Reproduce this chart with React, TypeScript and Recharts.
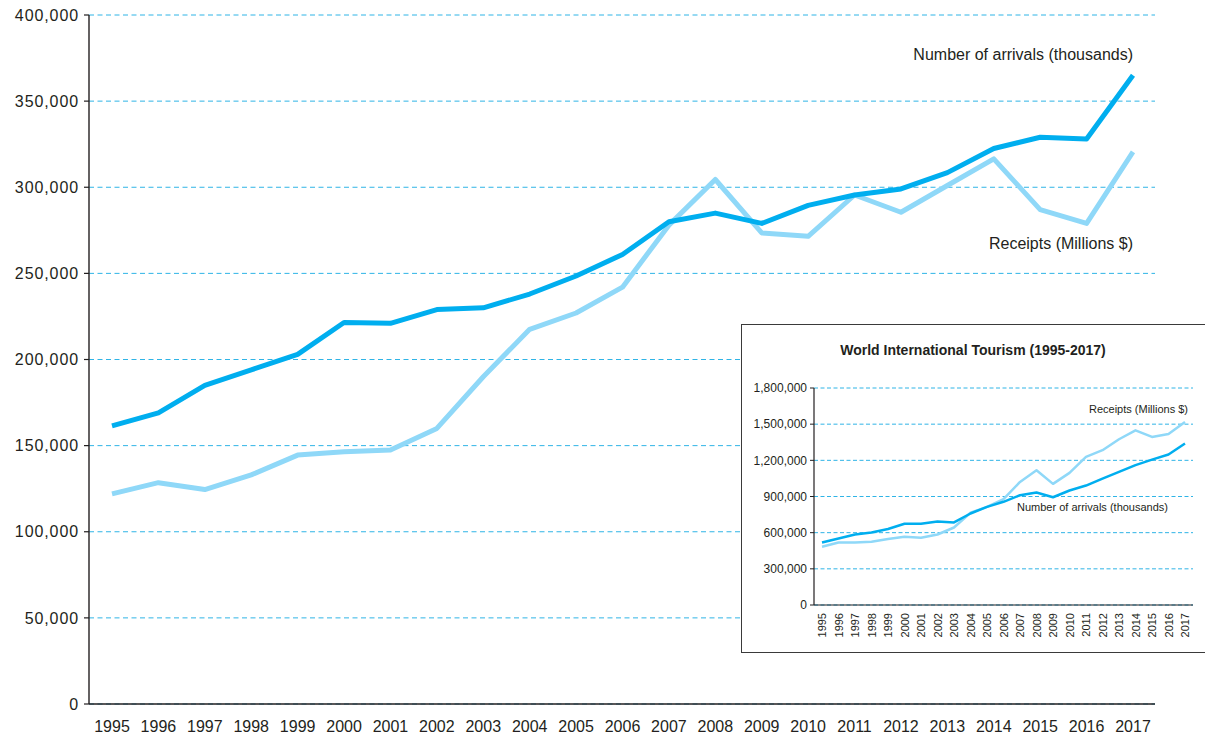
import React from "react";
import { LineChart, Line, XAxis, YAxis, CartesianGrid } from "recharts";

const years = ["1995","1996","1997","1998","1999","2000","2001","2002","2003","2004","2005","2006","2007","2008","2009","2010","2011","2012","2013","2014","2015","2016","2017"];

const arrivalsMain = [161500, 169000, 185000, 194000, 203000, 221500, 221000, 229000, 230000, 238000, 248500, 261000, 280000, 285000, 279000, 289500, 295500, 299000, 308500, 322500, 329000, 328000, 365000];
const receiptsMain = [122000, 128500, 124500, 133000, 144500, 146500, 147500, 160000, 190000, 217500, 227000, 242000, 278000, 304500, 273500, 271500, 295500, 285500, 301000, 316500, 287000, 279000, 320500];

const arrivalsInset = [519000, 552000, 585000, 602000, 630000, 674000, 674000, 693000, 685000, 759000, 814000, 856000, 911000, 933000, 894000, 950000, 991000, 1049000, 1104000, 1160000, 1206000, 1248000, 1339000];
const receiptsInset = [483000, 519000, 519000, 525000, 547000, 566000, 558000, 585000, 643000, 765000, 814000, 878000, 1021000, 1118000, 1005000, 1096000, 1229000, 1284000, 1375000, 1449000, 1394000, 1419000, 1518000];

const mainTicks = [0, 50000, 100000, 150000, 200000, 250000, 300000, 350000, 400000];
const insetTicks = [0, 300000, 600000, 900000, 1200000, 1500000, 1800000];

const arrivalsLabel = "Number of arrivals (thousands)";
const receiptsLabel = "Receipts (Millions $)";
const insetTitle = "World International Tourism (1995-2017)";

const mainData = years.map((y, i) => ({ year: y, arrivals: arrivalsMain[i], receipts: receiptsMain[i] }));
const insetData = years.map((y, i) => ({ year: y, arrivals: arrivalsInset[i], receipts: receiptsInset[i] }));

const FONT = '"Liberation Sans", Arial, Helvetica, sans-serif';
const TEXT = "#231f20";
const DARK = "#00aeef";
const LIGHT = "#8fd8f8";
const GRID = "#2fb4e6";

const fmt = (v: number) => v.toLocaleString("en-US");

const InsetXTick = (props: any) => {
  const { x, y, payload } = props;
  return (
    <text
      x={x}
      y={y}
      transform={`rotate(-90 ${x} ${y})`}
      textAnchor="end"
      dominantBaseline="central"
      fontSize={11}
      fontFamily={FONT}
      fill={TEXT}
    >
      {payload.value}
    </text>
  );
};

export default function App() {
  return (
    <div
      style={{
        position: "absolute",
        left: 0,
        top: 0,
        width: 1205,
        height: 734,
        overflow: "hidden",
        background: "#fff",
        fontFamily: FONT,
      }}
    >
      <div style={{ position: "absolute", left: 0, top: 0 }}>
        <LineChart width={1205} height={734} data={mainData} margin={{ top: 15, right: 50, left: 0, bottom: 0 }}>
          <CartesianGrid vertical={false} stroke={GRID} strokeDasharray="5 3.5" strokeWidth={1} />
          <XAxis
            dataKey="year"
            interval={0}
            padding={{ left: 23, right: 22 }}
            height={30}
            tickLine={false}
            tickSize={5}
            tickMargin={12}
            axisLine={{ stroke: TEXT, strokeWidth: 1.4 }}
            tick={{ fontSize: 16, fill: TEXT, fontFamily: FONT }}
          />
          <YAxis
            width={89}
            domain={[0, 400000]}
            ticks={mainTicks}
            interval={0}
            tickFormatter={fmt}
            tickSize={5}
            tickMargin={5}
            axisLine={{ stroke: TEXT, strokeWidth: 1.4 }}
            tickLine={{ stroke: TEXT, strokeWidth: 1.2 }}
            tick={{ fontSize: 16, fill: TEXT, fontFamily: FONT, letterSpacing: 0.9 }}
          />
          <Line type="linear" dataKey="receipts" stroke={LIGHT} strokeWidth={5} dot={false} activeDot={false} isAnimationActive={false} strokeLinejoin="round" />
          <Line type="linear" dataKey="arrivals" stroke={DARK} strokeWidth={5} dot={false} activeDot={false} isAnimationActive={false} strokeLinejoin="round" />
        </LineChart>
      </div>

      <div
        style={{
          position: "absolute",
          left: 741,
          top: 324,
          width: 480,
          height: 329,
          border: "1.5px solid #3a3a3a",
          boxSizing: "border-box",
          background: "#fff",
        }}
      />

      <div style={{ position: "absolute", left: 742, top: 325 }}>
        <LineChart width={463} height={327} data={insetData} margin={{ top: 63, right: 12, left: 0, bottom: 0 }}>
          <CartesianGrid vertical={false} stroke={GRID} strokeDasharray="4 2.5" strokeWidth={1} />
          <XAxis
            dataKey="year"
            interval={0}
            padding={{ left: 8, right: 8 }}
            height={47}
            tickLine={false}
            tickSize={0}
            tickMargin={8}
            axisLine={{ stroke: TEXT, strokeWidth: 1.2 }}
            tick={<InsetXTick />}
          />
          <YAxis
            width={72}
            domain={[0, 1800000]}
            ticks={insetTicks}
            interval={0}
            tickFormatter={fmt}
            tickSize={4}
            tickMargin={3}
            axisLine={{ stroke: TEXT, strokeWidth: 1.2 }}
            tickLine={{ stroke: TEXT, strokeWidth: 1 }}
            tick={{ fontSize: 12, fill: TEXT, fontFamily: FONT }}
          />
          <Line type="linear" dataKey="receipts" stroke={LIGHT} strokeWidth={2.5} dot={false} activeDot={false} isAnimationActive={false} strokeLinejoin="round" />
          <Line type="linear" dataKey="arrivals" stroke={DARK} strokeWidth={2.5} dot={false} activeDot={false} isAnimationActive={false} strokeLinejoin="round" />
        </LineChart>
      </div>

      <svg width={1205} height={734} style={{ position: "absolute", left: 0, top: 0, pointerEvents: "none" }}>
        <text x={1133} y={54} textAnchor="end" dominantBaseline="central" fontSize={16} fontFamily={FONT} fill={TEXT}>
          {arrivalsLabel}
        </text>
        <text x={1133} y={243} textAnchor="end" dominantBaseline="central" fontSize={16} fontFamily={FONT} fill={TEXT}>
          {receiptsLabel}
        </text>
        <text x={973} y={350} textAnchor="middle" dominantBaseline="central" fontSize={14} fontWeight="bold" fontFamily={FONT} fill={TEXT}>
          {insetTitle}
        </text>
        <text x={1188} y={409} textAnchor="end" dominantBaseline="central" fontSize={11} fontFamily={FONT} fill={TEXT}>
          {receiptsLabel}
        </text>
        <text x={1017} y={507} textAnchor="start" dominantBaseline="central" fontSize={11} fontFamily={FONT} fill={TEXT}>
          {arrivalsLabel}
        </text>
      </svg>
    </div>
  );
}
